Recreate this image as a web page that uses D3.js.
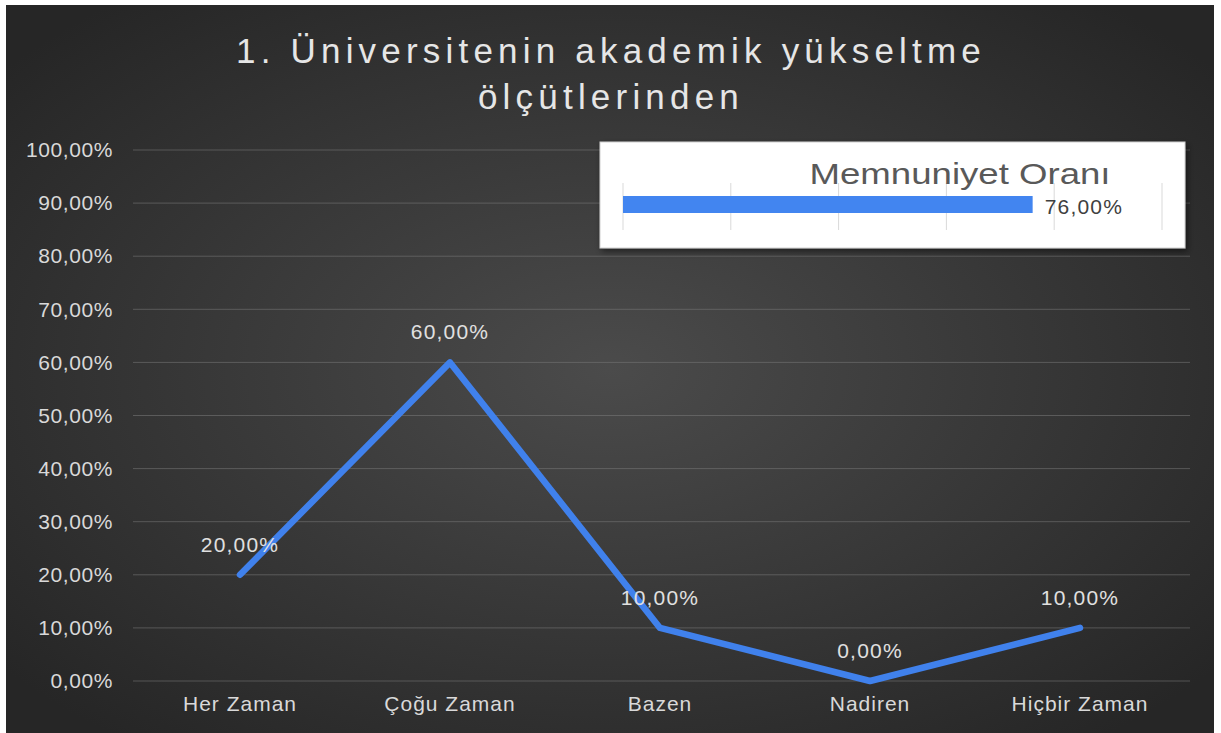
<!DOCTYPE html>
<html>
<head>
<meta charset="utf-8">
<script src="https://cdn.jsdelivr.net/npm/d3@7"></script>
<style>
  html, body { margin: 0; padding: 0; background: #ffffff; }
  svg { display: block; font-family: "Liberation Sans", Arial, sans-serif; }
</style>
</head>
<body>
<div id="chart"></div>
<script>
// chart data
const categories = ["Her Zaman", "Çoğu Zaman", "Bazen", "Nadiren", "Hiçbir Zaman"];
const values = [20, 60, 10, 0, 10];
const yTicks = [0, 10, 20, 30, 40, 50, 60, 70, 80, 90, 100];
const titleLines = ["1. Üniversitenin akademik yükseltme", "ölçütlerinden"];
const summaryLabel = "Memnuniyet Oranı";
const summaryValue = 76;
const summaryTicks = [0, 20, 40, 60, 80, 100];

// chart settings
const svg_width = 1221, svg_height = 733;
const panel = { x: 6, y: 5, w: 1208, h: 728 };
const margin = { top: 150, right: 36, bottom: 52, left: 135 };
const width = svg_width - margin.left - margin.right;
const height = svg_height - margin.top - margin.bottom;

const fmt = v => v.toFixed(2).replace(".", ",") + "%";

const svg = d3.select("#chart").append("svg")
  .attr("width", svg_width)
  .attr("height", svg_height);

// background gradient
const defs = svg.append("defs");
const grad = defs.append("radialGradient")
  .attr("id", "bg")
  .attr("cx", "50%").attr("cy", "50%").attr("r", "65%");
grad.append("stop").attr("offset", "0%").attr("stop-color", "#4b4b4b");
grad.append("stop").attr("offset", "100%").attr("stop-color", "#262626");

const shadow = defs.append("filter").attr("id", "shadow")
  .attr("x", "-5%").attr("y", "-10%").attr("width", "110%").attr("height", "130%");
shadow.append("feDropShadow")
  .attr("dx", 2).attr("dy", 3).attr("stdDeviation", 3)
  .attr("flood-color", "#000").attr("flood-opacity", 0.5);

svg.append("rect")
  .attr("x", panel.x).attr("y", panel.y)
  .attr("width", panel.w).attr("height", panel.h)
  .attr("fill", "url(#bg)");

// title
svg.append("text")
  .attr("text-anchor", "middle")
  .attr("fill", "#e6e6e6")
  .style("font-size", "35px")
  .style("letter-spacing", "5.2px")
  .selectAll("tspan")
  .data(titleLines)
  .enter().append("tspan")
  .attr("x", 611)
  .attr("y", (d, i) => 63 + i * 46)
  .text(d => d);

const g = svg.append("g")
  .attr("transform", "translate(" + margin.left + "," + margin.top + ")");

// scales
const x = d3.scaleBand()
  .domain(categories)
  .range([0, width]);
const y = d3.scaleLinear()
  .domain([0, 100])
  .range([height, 0]);

// gridlines
g.selectAll(".grid")
  .data(yTicks)
  .enter().append("line")
  .attr("class", "grid")
  .attr("x1", -2).attr("x2", width + 5)
  .attr("y1", d => y(d)).attr("y2", d => y(d))
  .attr("stroke", "#7a7a7a")
  .attr("stroke-opacity", 0.55)
  .attr("stroke-width", 1);

// y axis
const yAxis = g.append("g")
  .attr("class", "axis axis-y")
  .call(d3.axisLeft(y).tickValues(yTicks).tickSize(0).tickPadding(22).tickFormat(fmt));
yAxis.select(".domain").remove();
yAxis.selectAll("text")
  .attr("fill", "#d9d9d9")
  .style("font-size", "21px")
  .style("letter-spacing", "0.6px");

// x axis
const xAxis = g.append("g")
  .attr("class", "axis axis-x")
  .attr("transform", "translate(0," + height + ")")
  .call(d3.axisBottom(x).tickSize(0).tickPadding(15));
xAxis.select(".domain").remove();
xAxis.selectAll("text")
  .attr("fill", "#d9d9d9")
  .style("font-size", "21px")
  .style("letter-spacing", "1px");

// line
const line = d3.line()
  .x((d, i) => x(categories[i]) + x.bandwidth() / 2)
  .y(d => y(d));

g.append("path")
  .datum(values)
  .attr("fill", "none")
  .attr("stroke", "#4081ec")
  .attr("stroke-width", 6.5)
  .attr("stroke-linejoin", "round")
  .attr("stroke-linecap", "round")
  .attr("d", line);

// data labels
g.selectAll(".label")
  .data(values)
  .enter().append("text")
  .attr("class", "label")
  .attr("x", (d, i) => x(categories[i]) + x.bandwidth() / 2)
  .attr("y", d => y(d) - 23)
  .attr("text-anchor", "middle")
  .attr("fill", "#e0e0e0")
  .style("font-size", "21px")
  .style("letter-spacing", "1.2px")
  .text(fmt);

// summary box
const box = { x: 600, y: 142, w: 585, h: 106 };
svg.append("rect")
  .attr("x", box.x).attr("y", box.y)
  .attr("width", box.w).attr("height", box.h)
  .attr("fill", "#ffffff")
  .attr("stroke", "#d0d0d0")
  .attr("filter", "url(#shadow)");

const sx = d3.scaleLinear().domain([0, 100]).range([623, 1162]);

svg.selectAll(".sgrid")
  .data(summaryTicks)
  .enter().append("line")
  .attr("class", "sgrid")
  .attr("x1", d => sx(d)).attr("x2", d => sx(d))
  .attr("y1", 183).attr("y2", 230)
  .attr("stroke", "#d9d9d9");

svg.append("rect")
  .attr("x", sx(0)).attr("y", 196)
  .attr("width", sx(summaryValue) - sx(0)).attr("height", 17)
  .attr("fill", "#4285f0");

svg.append("text")
  .attr("transform", "translate(960,184) scale(1.22,1)")
  .attr("text-anchor", "middle")
  .attr("fill", "#595959")
  .style("font-size", "30px")
  .text(summaryLabel);

svg.append("text")
  .attr("x", sx(summaryValue) + 12).attr("y", 214)
  .attr("fill", "#404040")
  .style("font-size", "21px")
  .style("letter-spacing", "1.2px")
  .text(fmt(summaryValue));
</script>
</body>
</html>
